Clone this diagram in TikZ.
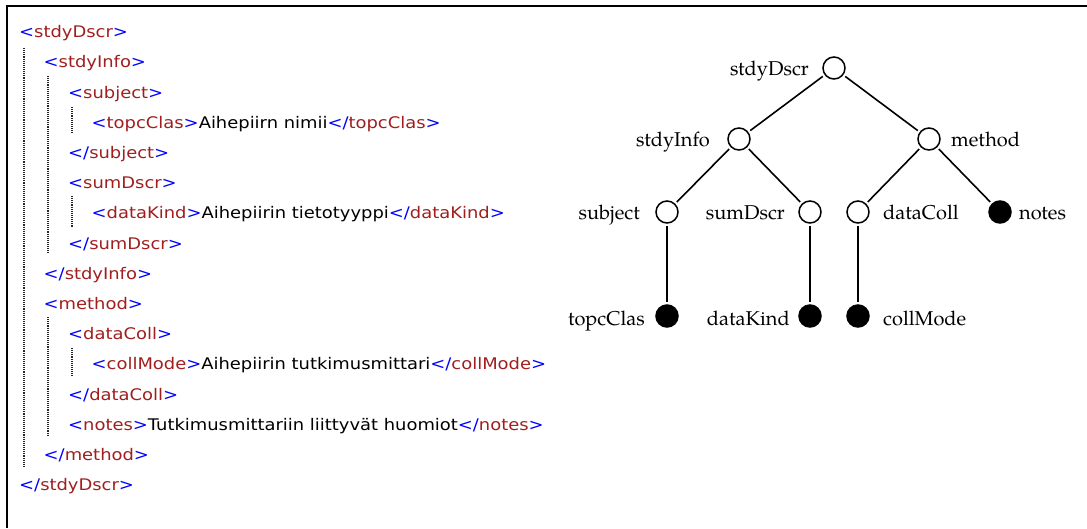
\documentclass[tikz,border=0pt]{standalone}
\usepackage{fontspec}
\newfontfamily\xmlfont[FakeStretch=1.12]{DejaVu Sans}
\newfontfamily\treefont{texgyrepagella-regular.otf}
\definecolor{tagblue}{RGB}{0,0,255}
\definecolor{tagred}{RGB}{160,30,30}
\newcommand\xo[1]{\textcolor{tagblue}{<}\textcolor{tagred}{#1}\textcolor{tagblue}{>}}
\newcommand\xc[1]{\textcolor{tagblue}{</}\textcolor{tagred}{#1}\textcolor{tagblue}{>}}
\begin{document}
\begin{tikzpicture}[x=1pt,y=-1pt,
  xml/.style={anchor=base west,inner sep=0pt,font=\xmlfont\fontsize{16}{19}\selectfont},
  guide/.style={black!85,densely dotted,line width=1.1pt},
  opennode/.style={circle,draw,line width=1.5pt,minimum size=22pt,inner sep=0pt,outer sep=3pt},
  fillnode/.style={opennode,fill=black},
  edge/.style={line width=1.6pt},
  lab/.style={inner sep=0pt,font=\treefont\fontsize{20}{24}\selectfont}]
\useasboundingbox (0,0) rectangle (1087,528);
% frame
\draw[line width=2pt] (7,528) -- (7,6) -- (1087,6);
% XML listing
\node[xml] (x1)  at (19,37.7)  {\xo{stdyDscr}};
\node[xml] (x2)  at (43.5,67.9)  {\xo{stdyInfo}};
\node[xml] (x3)  at (68,98.1)  {\xo{subject}};
\node[xml] (x4)  at (91.5,128.3) {\xo{topcClas}Aihepiirn nimii\xc{topcClas}};
\node[xml] (x5)  at (68,158.5) {\xc{subject}};
\node[xml] (x6)  at (68,188.7) {\xo{sumDscr}};
\node[xml] (x7)  at (91.5,218.9) {\xo{dataKind}Aihepiirin tietotyyppi\xc{dataKind}};
\node[xml] (x8)  at (68,249.1) {\xc{sumDscr}};
\node[xml] (x9)  at (43.5,279.3) {\xc{stdyInfo}};
\node[xml] (x10) at (43.5,309.5) {\xo{method}};
\node[xml] (x11) at (68,339.7) {\xo{dataColl}};
\node[xml] (x12) at (91.5,369.9) {\xo{collMode}Aihepiirin tutkimusmittari\xc{collMode}};
\node[xml] (x13) at (68,400.1) {\xc{dataColl}};
\node[xml] (x14) at (68,430.3) {\xo{notes}Tutkimusmittariin liittyvät huomiot\xc{notes}};
\node[xml] (x15) at (43.5,460.5) {\xc{method}};
\node[xml] (x16) at (19,490.7) {\xc{stdyDscr}};
% guides
\draw[guide] (24,48) -- (24,467);
\draw[guide] (48,76) -- (48,253);
\draw[guide] (48,317) -- (48,435);
\draw[guide] (72,107) -- (72,134);
\draw[guide] (72,196) -- (72,227);
\draw[guide] (72,348) -- (72,376);
% tree
\node[opennode] (sd) at (834,68) {};
\node[opennode] (si) at (739,139) {};
\node[opennode] (me) at (929,139) {};
\node[opennode] (su) at (667,212) {};
\node[opennode] (sm) at (810,212) {};
\node[opennode] (dc) at (858,212) {};
\node[fillnode] (no) at (1000,212) {};
\node[fillnode] (tc) at (667,316) {};
\node[fillnode] (dk) at (810,316) {};
\node[fillnode] (cm) at (858,316) {};
\draw[edge] (sd) -- (si);
\draw[edge] (sd) -- (me);
\draw[edge] (si) -- (su);
\draw[edge] (si) -- (sm);
\draw[edge] (me) -- (dc);
\draw[edge] (me) -- (no);
\draw[edge] (su) -- (tc);
\draw[edge] (sm) -- (dk);
\draw[edge] (dc) -- (cm);
% labels
\node[lab,anchor=base east] (lsd) at (809,75) {stdyDscr};
\node[lab,anchor=base east] (lsi) at (710,146.5) {stdyInfo};
\node[lab,anchor=base west] (lme) at (951,146.5) {method};
\node[lab,anchor=base east] (lsu) at (640,219) {subject};
\node[lab,anchor=base east] (lsm) at (785,219) {sumDscr};
\node[lab,anchor=base west] (ldc) at (883,219) {dataColl};
\node[lab,anchor=base west] (lno) at (1019,219) {notes};
\node[lab,anchor=base east] (ltc) at (645,325) {topcClas};
\node[lab,anchor=base east] (ldk) at (790,325) {dataKind};
\node[lab,anchor=base west] (lcm) at (883,325) {collMode};
\end{tikzpicture}
\end{document}
